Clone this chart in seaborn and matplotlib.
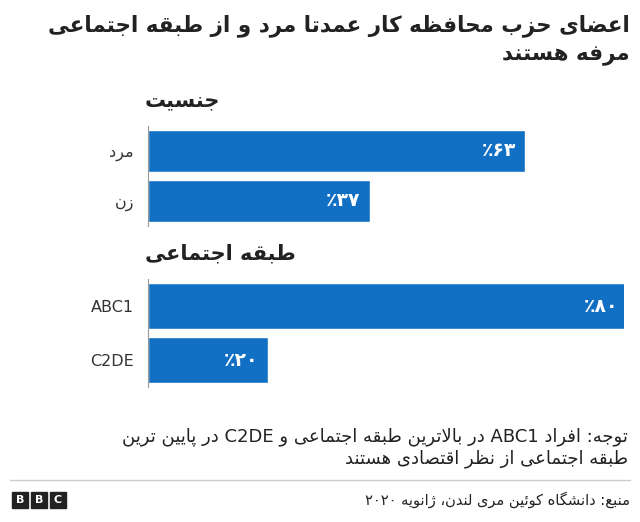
import re
import matplotlib
matplotlib.use("Agg")
import matplotlib.pyplot as plt
from matplotlib.patches import Rectangle
import seaborn as sns
import pandas as pd

# --- minimal Arabic/Persian shaping (matplotlib has no complex text layout) ---
FORMS = {
    'ا': (0xFE8D, 0xFE8E, None, None), 'ب': (0xFE8F, 0xFE90, 0xFE91, 0xFE92),
    'ت': (0xFE95, 0xFE96, 0xFE97, 0xFE98), 'ث': (0xFE99, 0xFE9A, 0xFE9B, 0xFE9C),
    'ج': (0xFE9D, 0xFE9E, 0xFE9F, 0xFEA0), 'ح': (0xFEA1, 0xFEA2, 0xFEA3, 0xFEA4),
    'خ': (0xFEA5, 0xFEA6, 0xFEA7, 0xFEA8), 'د': (0xFEA9, 0xFEAA, None, None),
    'ذ': (0xFEAB, 0xFEAC, None, None), 'ر': (0xFEAD, 0xFEAE, None, None),
    'ز': (0xFEAF, 0xFEB0, None, None), 'س': (0xFEB1, 0xFEB2, 0xFEB3, 0xFEB4),
    'ش': (0xFEB5, 0xFEB6, 0xFEB7, 0xFEB8), 'ص': (0xFEB9, 0xFEBA, 0xFEBB, 0xFEBC),
    'ض': (0xFEBD, 0xFEBE, 0xFEBF, 0xFEC0), 'ط': (0xFEC1, 0xFEC2, 0xFEC3, 0xFEC4),
    'ظ': (0xFEC5, 0xFEC6, 0xFEC7, 0xFEC8), 'ع': (0xFEC9, 0xFECA, 0xFECB, 0xFECC),
    'غ': (0xFECD, 0xFECE, 0xFECF, 0xFED0), 'ف': (0xFED1, 0xFED2, 0xFED3, 0xFED4),
    'ق': (0xFED5, 0xFED6, 0xFED7, 0xFED8), 'ل': (0xFEDD, 0xFEDE, 0xFEDF, 0xFEE0),
    'م': (0xFEE1, 0xFEE2, 0xFEE3, 0xFEE4), 'ن': (0xFEE5, 0xFEE6, 0xFEE7, 0xFEE8),
    'ه': (0xFEE9, 0xFEEA, 0xFEEB, 0xFEEC), 'و': (0xFEED, 0xFEEE, None, None),
    'ی': (0xFBFC, 0xFBFD, 0xFBFE, 0xFBFF), 'ک': (0xFB8E, 0xFB8F, 0xFB90, 0xFB91),
    'ژ': (0xFB8A, 0xFB8B, None, None), 'پ': (0xFB56, 0xFB57, 0xFB58, 0xFB59),
    'گ': (0xFB92, 0xFB93, 0xFB94, 0xFB95), 'ئ': (0xFE89, 0xFE8A, 0xFE8B, 0xFE8C),
}


def dual(c):
    return c in FORMS and FORMS[c][2] is not None


def shape(text):
    text = text.replace('لا', '\uE000')  # lam-alef placeholder
    out = []
    for i, c in enumerate(text):
        prev = text[i - 1] if i > 0 else ''
        nxt = text[i + 1] if i + 1 < len(text) else ''
        if c == '\uE000':
            out.append(chr(0xFEFC if dual(prev) else 0xFEFB))
            continue
        if c not in FORMS:
            out.append(c)
            continue
        jp = dual(prev)
        jn = dual(c) and (nxt in FORMS or nxt == '\uE000')
        iso, fin, ini, med = FORMS[c]
        if jp and jn:
            out.append(chr(med))
        elif jp:
            out.append(chr(fin))
        elif jn:
            out.append(chr(ini))
        else:
            out.append(chr(iso))
    s = ''.join(out)
    # visual order: reverse, keep LTR runs intact
    tokens = re.findall(r'[A-Za-z0-9۰-۹]+|[^A-Za-z0-9۰-۹]+', s)
    return ''.join(t if re.match(r'[A-Za-z0-9۰-۹]', t) else t[::-1] for t in tokens[::-1])


# --- data ---
gender_labels = ['مرد', 'زن']
gender_values = [63, 37]
gender_text = ['٪۶۳', '٪۳۷']
class_labels = ['ABC1', 'C2DE']
class_values = [80, 20]
class_text = ['٪۸۰', '٪۲۰']

title_lines = ['اعضای حزب محافظه کار عمدتا مرد و از طبقه اجتماعی', 'مرفه هستند']
heading_gender = 'جنسیت'
heading_class = 'طبقه اجتماعی'
note_lines = ['توجه: افراد ABC1 در بالاترین طبقه اجتماعی و C2DE در پایین ترین',
              'طبقه اجتماعی از نظر اقتصادی هستند']
source = 'منبع: دانشگاه کوئین مری لندن، ژانویه ۲۰۲۰'

sns.set_style("white")
plt.rcParams['font.family'] = ['DejaVu Sans']
BLUE = '#1170c4'

W, H = 640, 522
fig = plt.figure(figsize=(6.4, 5.22), dpi=100)


def px(x, y):
    return x / W, 1 - y / H


for i, line in enumerate(title_lines):
    fig.text(*px(630, 26 + i * 30), shape(line), ha='right', va='center',
             fontsize=15.5, fontweight='bold', color='#222222')


def panel(top, bottom, labels, values, texts, heading):
    ax = fig.add_axes([148 / W, 1 - bottom / H, 476 / W, (bottom - top) / H])
    ax.set_facecolor('none')
    df = pd.DataFrame({'label': labels, 'value': values})
    sns.barplot(data=df, x='value', y='label', color=BLUE, width=0.85,
                saturation=1, ax=ax)
    ax.set_xlim(0, 79.5)
    ax.set_xlabel('')
    ax.set_ylabel('')
    ax.set_xticks([])
    ax.set_yticklabels([shape(l) for l in labels], fontsize=11.5, color='#333333')
    ax.tick_params(axis='y', length=0, pad=10)
    for s in ['top', 'right', 'bottom']:
        ax.spines[s].set_visible(False)
    ax.spines['left'].set_color('#999999')
    for i, (v, t) in enumerate(zip(values, texts)):
        ax.text(v - 1.5, i, t, ha='right', va='center', color='white',
                fontsize=13.5, fontweight='bold')
    t = fig.text(*px(145, top - 26), shape(heading), ha='left', va='center',
                 fontsize=15, fontweight='bold', color='#222222')
    t.set_zorder(10)
    return ax


panel(126, 226, gender_labels, gender_values, gender_text, heading_gender)
panel(279, 387, class_labels, class_values, class_text, heading_class)

for i, line in enumerate(note_lines):
    fig.text(*px(628, 437 + i * 22), shape(line), ha='right', va='center',
             fontsize=13, color='#222222')

fig.add_artist(plt.Line2D([10 / W, 630 / W], [1 - 480 / H] * 2,
                          color='#cccccc', lw=1, transform=fig.transFigure))

for i, ch in enumerate('BBC'):
    x0 = 12 + i * 19
    fig.add_artist(Rectangle((x0 / W, 1 - 508 / H), 16 / W, 16 / H,
                             color='#222222', transform=fig.transFigure))
    fig.text((x0 + 8) / W, 1 - 500 / H, ch, ha='center', va='center',
             color='white', fontsize=8, fontweight='bold')

fig.text(*px(630, 500), shape(source), ha='right', va='center',
         fontsize=10.5, color='#222222')

fig.savefig('out.png', dpi=100)
